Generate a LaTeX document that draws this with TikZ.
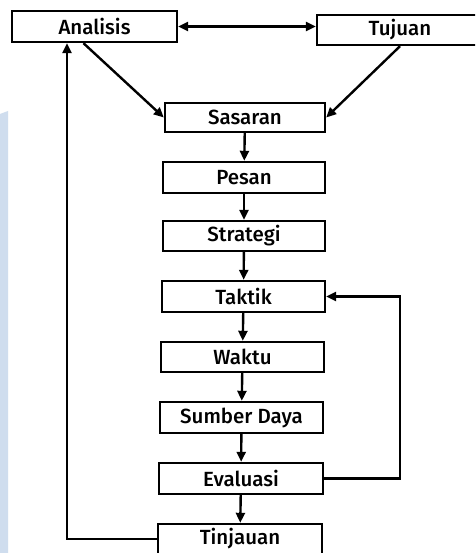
\documentclass[tikz,border=0pt]{standalone}
\usepackage{fontspec}
\setmainfont{Fira Sans}[BoldFont={* Medium}]
\usetikzlibrary{arrows.meta,calc}
\definecolor{bandblue}{HTML}{CFDDEE}
\begin{document}
\begin{tikzpicture}[x=1pt,y=-1pt,
  box/.style={draw, line width=2.4pt, minimum width=163pt, minimum height=30pt,
    inner sep=0pt, font=\fontsize{20.5}{23}\selectfont\bfseries},
  arr/.style={line width=2.4pt, -{Triangle[length=10pt,width=9pt]}},
  darr/.style={line width=2.4pt, {Triangle[length=10pt,width=9pt]}-{Triangle[length=10pt,width=9pt]}}]
\clip (0,0) rectangle (475,553);
\fill[white] (0,0) rectangle (475,553);
\fill[bandblue] (0,114) -- (8,111) -- (8,553) -- (0,553) -- cycle;
\node[box, minimum width=165pt, minimum height=31pt] (ana) at (94.5,26.5) {Analisis};
\node[box, minimum width=166pt] (tuj) at (400,30) {Tujuan};
\node[box, minimum width=160pt, minimum height=29pt] (sas) at (245,117.5) {Sasaran};
\node[box, minimum width=162pt, minimum height=31pt] (pes) at (244,177.5) {Pesan};
\node[box, minimum width=162pt] (str) at (244,236) {Strategi};
\node[box, minimum height=31pt] (tak) at (243.5,296.5) {Taktik};
\node[box] (wak) at (242.5,357) {Waktu};
\node[box, minimum height=31pt] (sum) at (241.5,417.5) {Sumber Daya};
\node[box, minimum width=164pt, minimum height=31pt] (eva) at (241,478.5) {Evaluasi};
\node[box, minimum width=164pt] (tin) at (240,539) {Tinjauan};
\coordinate (lx) at (67,0);
\draw[darr] (ana.east) -- (ana.east -| tuj.west);
\draw[arr] ([xshift=-11pt]ana.south) -- (sas.west);
\draw[arr] (tuj.south) -- (sas.east);
\draw[arr] (sas) -- (pes);
\draw[arr] (pes) -- (str);
\draw[arr] (str) -- (tak);
\draw[arr] (tak) -- (wak);
\draw[arr] (wak) -- (sum);
\draw[arr] (sum) -- (eva);
\draw[arr] (eva) -- (tin);
\draw[arr] (eva.east) -- (eva.east -| tuj.south) |- (tak.east);
\draw[arr] (tin.west) -| (ana.south -| lx);
\end{tikzpicture}
\end{document}
